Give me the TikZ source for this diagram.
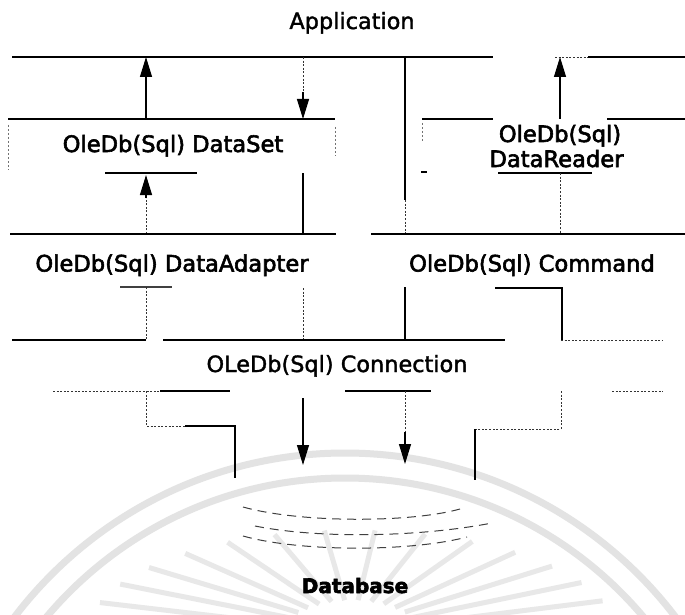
\documentclass[tikz,border=0pt]{standalone}
\usepackage{fontspec}
\setmainfont{DejaVu Sans}
\newfontfamily\labelfont[FakeBold=2.6]{DejaVu Sans}
\newfontfamily\lightfont[FakeBold=1.6]{DejaVu Sans}
\newfontfamily\heavyfont[FakeBold=3]{DejaVu Sans Bold}
\usetikzlibrary{arrows.meta}

\tikzset{
  ln/.style={line width=1.2pt, black},
  faint/.style={line width=0.9pt, black!80, dash pattern=on 2pt off 1.6pt},
  edge/.style={line width=0.7pt, black!55, dash pattern=on 2pt off 2pt},
  dsh/.style={line width=1pt, black!75, dash pattern=on 9pt off 6pt},
  tip/.style={-{Triangle[length=20pt,width=12pt]}},
  lbl/.style={font=\fontsize{22.6}{26}\selectfont\labelfont, inner sep=0pt, anchor=base},
  lblw/.style={font=\fontsize{22.4}{26}\selectfont\lightfont, inner sep=0pt, anchor=base},
  wm/.style={draw=black!11, line width=7pt},
  ray/.style={draw=black!9, line width=5pt},
}

\begin{document}
\begin{tikzpicture}[x=1pt,y=-1pt]
\useasboundingbox[fill=white] (0,0) rectangle (685,615);

% faint seal in the background
\begin{scope}
  \clip (0,0) rectangle (685,615);
  \draw[wm] (345,868) circle[radius=415];
  \draw[wm] (345,868) circle[radius=390];
  \foreach \t in {8,19,...,172}
    \draw[ray] ({352+70*cos(\t)},{635-35*sin(\t)}) -- ({352+265*cos(\t)},{635-105*sin(\t)});
\end{scope}

% labels
\node[lblw] (app)  at (352,29)    {Application};
\node[lbl]  (dset) at (173,152)   {OleDb(Sql) DataSet};
\node[lbl]  (drA)  at (560,142)   {OleDb(Sql)};
\node[lbl]  (drB)  at (556.5,167) {DataReader};
\node[lbl]  (dadp) at (172,271.5) {OleDb(Sql) DataAdapter};
\node[lbl]  (cmd)  at (532,271.5) {OleDb(Sql) Command};
\node[lblw] (conn) at (337,372)   {OLeDb(Sql) Connection};
\node[inner sep=0pt, anchor=base, font=\fontsize{20}{24}\selectfont\heavyfont] (db) at (355,593) {Database};

% application layer boundary
\coordinate (t1) at (12,57);  \coordinate (t2) at (493,57);
\coordinate (t3) at (555,57); \coordinate (t4) at (588,57); \coordinate (t5) at (685,57);
\draw[ln] (t1) -- (t2);
\draw[faint] (t3) -- (t4);
\draw[ln] (t4) -- (t5);

% DataSet <-> Application
\coordinate (aL) at (146,57);  \coordinate (sL) at (146,119);
\draw[ln,tip] (sL) -- (aL);
\coordinate (aM) at (303,57);  \coordinate (aMm) at (303,92);  \coordinate (sM) at (303,119);
\draw[faint] (aM) -- (aMm);
\draw[ln,tip] (aMm) -- (sM);

% long link from Application to Connection
\coordinate (vA) at (405,57); \coordinate (vB) at (405,200); \coordinate (vC) at (405,234);
\draw[ln] (vA) -- (vB);
\draw[faint] (vB) -- (vC);

% DataReader -> Application
\coordinate (aR) at (560,57);  \coordinate (sR) at (560,119);
\draw[ln,tip] (sR) -- (aR);

% DataSet box
\draw[ln] (8,119) -- (335,119);
\draw[edge] (8,125) -- (8,170);
\draw[edge] (335,127) -- (335,156);
\coordinate (dsB1) at (105,173); \coordinate (dsB2) at (197,173);
\draw[ln] (dsB1) -- (dsB2);

% DataAdapter -> DataSet
\coordinate (daU) at (146,234); \coordinate (daUm) at (146,198); \coordinate (dsIn) at (146,175);
\draw[faint] (daU) -- (daUm);
\draw[ln,tip] (daUm) -- (dsIn);
\coordinate (d303a) at (303,173); \coordinate (d303b) at (303,234);
\draw[ln] (d303a) -- (d303b);

% DataReader box
\draw[ln] (422,119) -- (493,119);
\draw[ln] (607,119) -- (685,119);
\draw[edge] (422,123) -- (422,142);
\draw[ln] (421,172) -- (427,172);
\coordinate (drL1) at (498,173); \coordinate (drL2) at (592,173);
\draw[ln] (drL1) -- (drL2);
\coordinate (c560a) at (560,173); \coordinate (c560b) at (560,234);
\draw[faint] (c560a) -- (c560b);

% DataAdapter / Command layer
\draw[ln] (10,234) -- (336,234);
\draw[ln] (371,234) -- (685,234);
\draw[ln,black!75] (120,287) -- (172,287);
\coordinate (p146a) at (146,287); \coordinate (p146b) at (146,340);
\draw[faint] (p146a) -- (p146b);
\coordinate (p303a) at (303,288); \coordinate (p303b) at (303,340);
\draw[faint] (p303a) -- (p303b);
\coordinate (p405a) at (405,287); \coordinate (p405b) at (405,340);
\draw[ln] (p405a) -- (p405b);
\coordinate (p562a) at (495,288); \coordinate (p562b) at (562,288); \coordinate (p562c) at (562,340);
\draw[ln] (p562a) -- (p562b) -- (p562c);

% Connection layer
\draw[ln] (12,340) -- (146,340);
\draw[ln] (163,340) -- (505,340);
\draw[faint] (561,340) -- (663,340);
\draw[faint] (53,391) -- (160,391);
\draw[ln] (160,391) -- (230,391);
\draw[ln] (345,391) -- (431,391);
\draw[faint] (612,391) -- (663,391);

% Connection -> Database
\coordinate (q1) at (146,391); \coordinate (q2) at (146,426);
\coordinate (q3) at (185,426); \coordinate (q4) at (235,426); \coordinate (q5) at (235,478);
\draw[faint] (q1) -- (q2) -- (q3);
\draw[ln] (q3) -- (q4) -- (q5);
\coordinate (m1) at (303,398); \coordinate (m2) at (303,465);
\draw[ln,tip] (m1) -- (m2);
\coordinate (n1) at (405,391); \coordinate (n2) at (405,432); \coordinate (n3) at (405,464);
\draw[faint] (n1) -- (n2);
\draw[ln,tip] (n2) -- (n3);
\coordinate (r1) at (561,391); \coordinate (r2) at (561,429);
\coordinate (r3) at (475,429); \coordinate (r4) at (475,480);
\draw[faint] (r1) -- (r2) -- (r3);
\draw[ln] (r3) -- (r4);

% database top, drawn as broken arcs
\draw[dsh] (243,507) .. controls (300,523) and (410,523) .. (460,509);
\draw[dsh] (255,526) .. controls (320,539) and (420,537) .. (492,523);
\draw[dsh] (243,536) .. controls (300,552) and (410,552) .. (467,537);
\end{tikzpicture}
\end{document}
